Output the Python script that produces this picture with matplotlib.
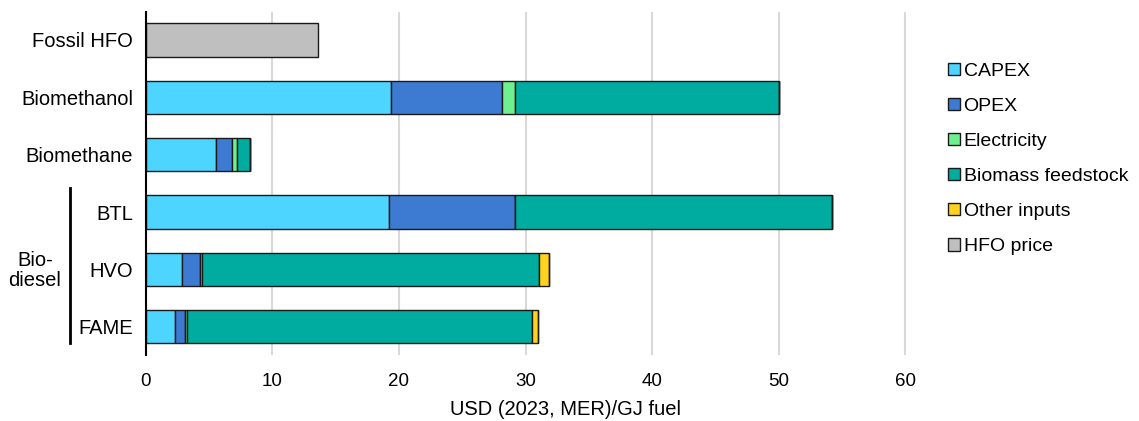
import matplotlib
matplotlib.use("Agg")
import matplotlib.pyplot as plt
from matplotlib.patches import Patch
from matplotlib import font_manager

# Cost breakdown of marine fuels, USD (2023, MER)/GJ fuel
categories = ["Fossil HFO", "Biomethanol", "Biomethane", "BTL", "HVO", "FAME"]
capex       = [0.0, 19.35, 5.53, 19.2, 2.87, 2.29]
opex        = [0.0, 8.80, 1.32, 10.0, 1.42, 0.82]
electricity = [0.0, 1.00, 0.37, 0.0, 0.15, 0.12]
biomass     = [0.0, 20.85, 1.00, 25.0, 26.60, 27.27]
other       = [0.0, 0.0, 0.0, 0.0, 0.85, 0.45]
hfo_price   = [13.6, 0.0, 0.0, 0.0, 0.0, 0.0]

series = [
    ("CAPEX", capex, "#4DD4FF"),
    ("OPEX", opex, "#3D7BD3"),
    ("Electricity", electricity, "#6EF090"),
    ("Biomass feedstock", biomass, "#00AB9F"),
    ("Other inputs", other, "#FFD21E"),
    ("HFO price", hfo_price, "#BFBFBF"),
]
x_ticks = [0, 10, 20, 30, 40, 50, 60]
group_label = "Bio-\ndiesel"
x_label = "USD (2023, MER)/GJ fuel"

names = {f.name for f in font_manager.fontManager.ttflist}
base = ["Liberation Sans", "DejaVu Sans"]
narrow = (["Liberation Sans Narrow"] if "Liberation Sans Narrow" in names else []) + base
plt.rcParams["font.family"] = base

fig = plt.figure(figsize=(11.39, 4.21), dpi=100)
ax = fig.add_axes([0.128, 0.157, 0.689, 0.815])

ypos = list(range(len(categories)))
left = [0.0] * len(categories)
edge = "#1a1a1a"
for label, vals, color in series:
    ax.barh(ypos, vals, left=left, height=0.58, color=color,
            edgecolor=edge, linewidth=1.0, zorder=3)
    left = [l + v for l, v in zip(left, vals)]

ax.set_xlim(0, 62)
ax.set_ylim(5.49, -0.49)
ax.set_xticks(x_ticks)
ax.set_xticklabels([str(t) for t in x_ticks], family=narrow, fontsize=13.5)
ax.set_yticks(ypos)
ax.set_yticklabels(categories, fontsize=14.5)
ax.tick_params(axis="both", length=0)
ax.tick_params(axis="y", pad=9)
ax.tick_params(axis="x", pad=13)
ax.set_xlabel(x_label, family=narrow, fontsize=14.5, va="center")
ax.xaxis.set_label_coords(0.535, -0.16)

ax.grid(axis="x", color="#d9d9d9", linewidth=1.5, zorder=0)
for s in ["top", "right", "bottom"]:
    ax.spines[s].set_visible(False)
ax.spines["left"].set_linewidth(1.5)
ax.spines["left"].set_color("#000000")
ax.spines["left"].set_zorder(4)

# Bracket grouping the biodiesel pathways
trans = ax.get_yaxis_transform()
ax.plot([-0.096, -0.096], [2.58, 5.28], transform=trans, color="black",
        linewidth=2, clip_on=False)
ax.text(-0.1414, 4.02, group_label, transform=trans, ha="center", va="center",
        fontsize=14.5, linespacing=1.05)

handles = [Patch(facecolor=c, edgecolor=edge, linewidth=1.0, label=l)
           for l, _, c in series]
fig.legend(handles=handles, loc="upper left", bbox_to_anchor=(0.8255, 0.869),
           frameon=False, fontsize=14, handlelength=0.62, handleheight=0.58,
           handletextpad=0.18, labelspacing=0.93, borderaxespad=0)

fig.savefig("out.png", dpi=100)
